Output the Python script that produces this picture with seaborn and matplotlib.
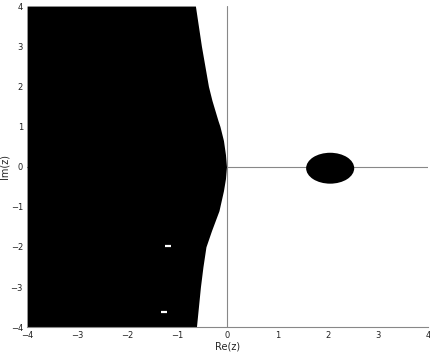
import matplotlib
matplotlib.use('Agg')
import matplotlib.pyplot as plt
from matplotlib.patches import Ellipse
import seaborn as sns

# Boundary of the dark (left) region: imaginary part vs right edge (real part)
im_edge = [-4.0, -3.5, -3.0, -2.5, -2.0, -1.6, -1.1, -0.6, -0.3, 0.0,
           0.3, 0.65, 1.0, 1.15, 1.65, 2.0, 2.5, 3.0, 3.5, 4.0]
re_edge = [-0.62, -0.58, -0.54, -0.49, -0.43, -0.32, -0.17, -0.08, -0.04, -0.02,
           -0.04, -0.08, -0.15, -0.19, -0.31, -0.38, -0.45, -0.52, -0.58, -0.64]

# Dark island on the real axis
island_center = (2.05, -0.04)
island_width = 0.96
island_height = 0.77

# Small light specks inside the dark region
speck_re = [-1.18, -1.27]
speck_im = [-1.98, -3.62]

x_ticks = [-4, -3, -2, -1, 0, 1, 2, 3, 4]
y_ticks = [-4, -3, -2, -1, 0, 1, 2, 3, 4]

sns.set_theme(style='white')
plt.rcParams['font.family'] = ['DejaVu Sans']

fig = plt.figure(figsize=(4.3, 3.56), dpi=100)
ax = fig.add_axes([0.063, 0.081, 0.932, 0.902])

ax.fill_betweenx(im_edge, -4, re_edge, color='black', lw=0, zorder=2)
ax.add_patch(Ellipse(island_center, island_width, island_height, color='black', lw=0, zorder=2))
ax.scatter(speck_re, speck_im, color='white', s=14, marker='_', linewidths=1.6, zorder=3)

ax.axvline(0, color='#888888', lw=0.8, zorder=1)
ax.axhline(0, color='#888888', lw=0.8, zorder=1)

ax.set_xlim(-4, 4)
ax.set_ylim(-4, 4)
ax.set_xticks(x_ticks)
ax.set_yticks(y_ticks)
ax.tick_params(labelsize=6, length=2, direction='in', pad=3, colors='#222222')
for s in ['top', 'right', 'left']:
    ax.spines[s].set_visible(False)
ax.spines['bottom'].set_color('#888888')
ax.spines['bottom'].set_linewidth(0.8)

ax.set_xlabel('Re(z)', fontsize=7, labelpad=1)
ax.set_ylabel('Im(z)', fontsize=7, labelpad=1)

fig.savefig('out.png', dpi=100)
